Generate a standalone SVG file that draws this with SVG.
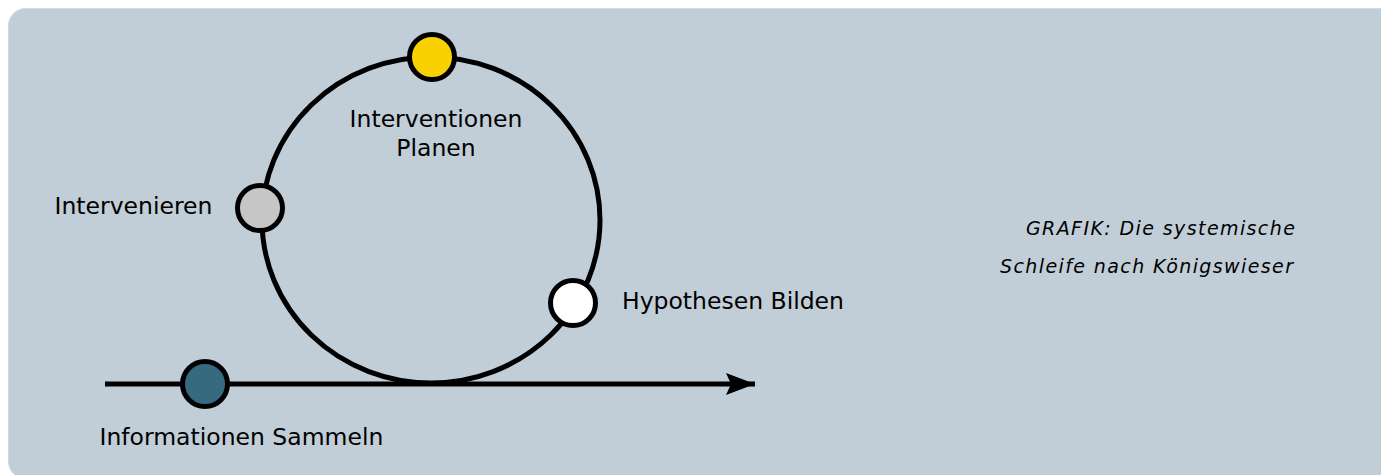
<svg xmlns="http://www.w3.org/2000/svg" width="1381" height="475" viewBox="0 0 1381 475">
  <style>
    .label { font-family: "DejaVu Sans", "Liberation Sans", sans-serif; font-size: 23.5px; fill: #000; }
    .caption { font-family: "DejaVu Sans", "Liberation Sans", sans-serif; font-size: 19px; font-style: italic; fill: #000; letter-spacing: 1.4px; }
    .node { stroke: #000; stroke-width: 5; }
    .wire { fill: none; stroke: #000; stroke-width: 5; }
  </style>
  <defs>
    <marker id="arrow" markerUnits="userSpaceOnUse" markerWidth="32" markerHeight="26" refX="29" refY="12" orient="auto">
      <path d="M0,1 L29,12 L0,23 L5,12 Z" fill="#000"/>
    </marker>
  </defs>

  <rect width="1381" height="475" fill="#ffffff"/>
  <!-- panel -->
  <rect x="8.5" y="8.5" width="1400" height="470" rx="17" ry="17" fill="#c1ced8" stroke="#d3dbe1" stroke-width="1"/>

  <!-- connectors -->
  <g id="connectors">
    <ellipse class="wire" cx="431" cy="220" rx="169" ry="163"/>
    <line class="wire" x1="105" y1="384" x2="755" y2="384" marker-end="url(#arrow)"/>
  </g>

  <g id="node-planen">
    <circle class="node" cx="432" cy="57" r="22.5" fill="#f8d200"/>
    <text class="label" x="436" y="127" text-anchor="middle">Interventionen</text>
    <text class="label" x="436" y="156" text-anchor="middle">Planen</text>
  </g>

  <g id="node-intervenieren">
    <circle class="node" cx="260" cy="208" r="22.5" fill="#c6c6c6"/>
    <text class="label" x="54.5" y="214">Intervenieren</text>
  </g>

  <g id="node-hypothesen">
    <circle class="node" cx="573" cy="303" r="22.5" fill="#ffffff"/>
    <text class="label" x="622" y="309">Hypothesen Bilden</text>
  </g>

  <g id="node-informationen">
    <circle class="node" cx="205" cy="384" r="22.5" fill="#366a80"/>
    <text class="label" x="99.5" y="444.5">Informationen Sammeln</text>
  </g>

  <g id="caption">
    <text class="caption" x="1026" y="235">GRAFIK: Die systemische</text>
    <text class="caption" x="1000" y="273">Schleife nach Königswieser</text>
  </g>
</svg>
